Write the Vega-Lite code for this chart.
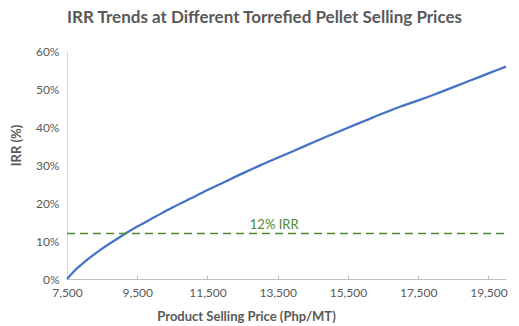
{
  "$schema": "https://vega.github.io/schema/vega-lite/v6.json",
  "width": 439,
  "height": 228,
  "autosize": {"type": "none"},
  "padding": {"left": 67, "top": 51, "right": 13, "bottom": 47},
  "background": "white",
  "config": {"view": {"stroke": null}, "font": "Lato"},
  "title": {
    "text": "IRR Trends at Different Torrefied Pellet Selling Prices",
    "fontSize": 17,
    "fontWeight": "bold",
    "color": "#595959",
    "font": "Lato",
    "anchor": "middle",
    "dx": -22,
    "offset": 18
  },
  "datasets": {
    "irr": [
      {"price": 7500, "irr": 0.0},
      {"price": 7750, "irr": 0.025},
      {"price": 8000, "irr": 0.045},
      {"price": 8500, "irr": 0.08},
      {"price": 9000, "irr": 0.11},
      {"price": 9500, "irr": 0.138},
      {"price": 10000, "irr": 0.163},
      {"price": 10500, "irr": 0.188},
      {"price": 11000, "irr": 0.211},
      {"price": 11500, "irr": 0.234},
      {"price": 12000, "irr": 0.256},
      {"price": 12500, "irr": 0.278},
      {"price": 13000, "irr": 0.299},
      {"price": 13500, "irr": 0.319},
      {"price": 14000, "irr": 0.339},
      {"price": 14500, "irr": 0.359},
      {"price": 15000, "irr": 0.379},
      {"price": 15500, "irr": 0.398},
      {"price": 16000, "irr": 0.417},
      {"price": 16500, "irr": 0.436},
      {"price": 17000, "irr": 0.454},
      {"price": 17500, "irr": 0.47},
      {"price": 18000, "irr": 0.487},
      {"price": 18500, "irr": 0.505},
      {"price": 19000, "irr": 0.523},
      {"price": 19500, "irr": 0.541},
      {"price": 20000, "irr": 0.559}
    ],
    "ref": [{"irr": 0.12, "price": 13400, "label": "12% IRR"}]
  },
  "encoding": {
    "x": {
      "field": "price",
      "type": "quantitative",
      "scale": {"domain": [7500, 20000], "nice": false, "zero": false},
      "axis": {
        "values": [7500, 9500, 11500, 13500, 15500, 17500, 19500],
        "format": ",d",
        "title": "Product Selling Price (Php/MT)",
        "titleFontSize": 13,
        "titleFontWeight": "bold",
        "titleColor": "#595959",
        "titleX": 179,
        "titleY": 31,
        "titleBaseline": "top",
        "labelFontSize": 12,
        "labelColor": "#595959",
        "labelPadding": 12,
        "labelFlush": false,
        "labelOverlap": false,
        "domainColor": "#BFBFBF",
        "tickColor": "#BFBFBF",
        "tickSize": -4,
        "grid": false
      }
    },
    "y": {
      "field": "irr",
      "type": "quantitative",
      "scale": {"domain": [0, 0.6], "nice": false},
      "axis": {
        "values": [0, 0.1, 0.2, 0.3, 0.4, 0.5, 0.6],
        "format": ".0%",
        "title": "IRR (%)",
        "titleFontSize": 13,
        "titleFontWeight": "bold",
        "titleColor": "#595959",
        "titleX": -44,
        "titleY": 94,
        "labelFontSize": 12,
        "labelColor": "#595959",
        "labelPadding": 8,
        "labelFlush": false,
        "labelOverlap": false,
        "domainColor": "#D9D9D9",
        "ticks": false,
        "grid": false
      }
    }
  },
  "layer": [
    {
      "data": {"name": "irr"},
      "mark": {"type": "line", "color": "#4472C4", "strokeWidth": 2.25, "interpolate": "monotone"}
    },
    {
      "data": {"name": "ref"},
      "mark": {"type": "rule", "color": "#4E8A2F", "strokeWidth": 1.5, "strokeDash": [8, 5]},
      "encoding": {
        "x": {"value": 0},
        "x2": {"value": 439}
      }
    },
    {
      "data": {"name": "ref"},
      "mark": {"type": "text", "color": "#4E8A2F", "fontSize": 13, "baseline": "bottom", "dy": -1, "font": "Lato"},
      "encoding": {
        "text": {"field": "label"}
      }
    }
  ]
}
